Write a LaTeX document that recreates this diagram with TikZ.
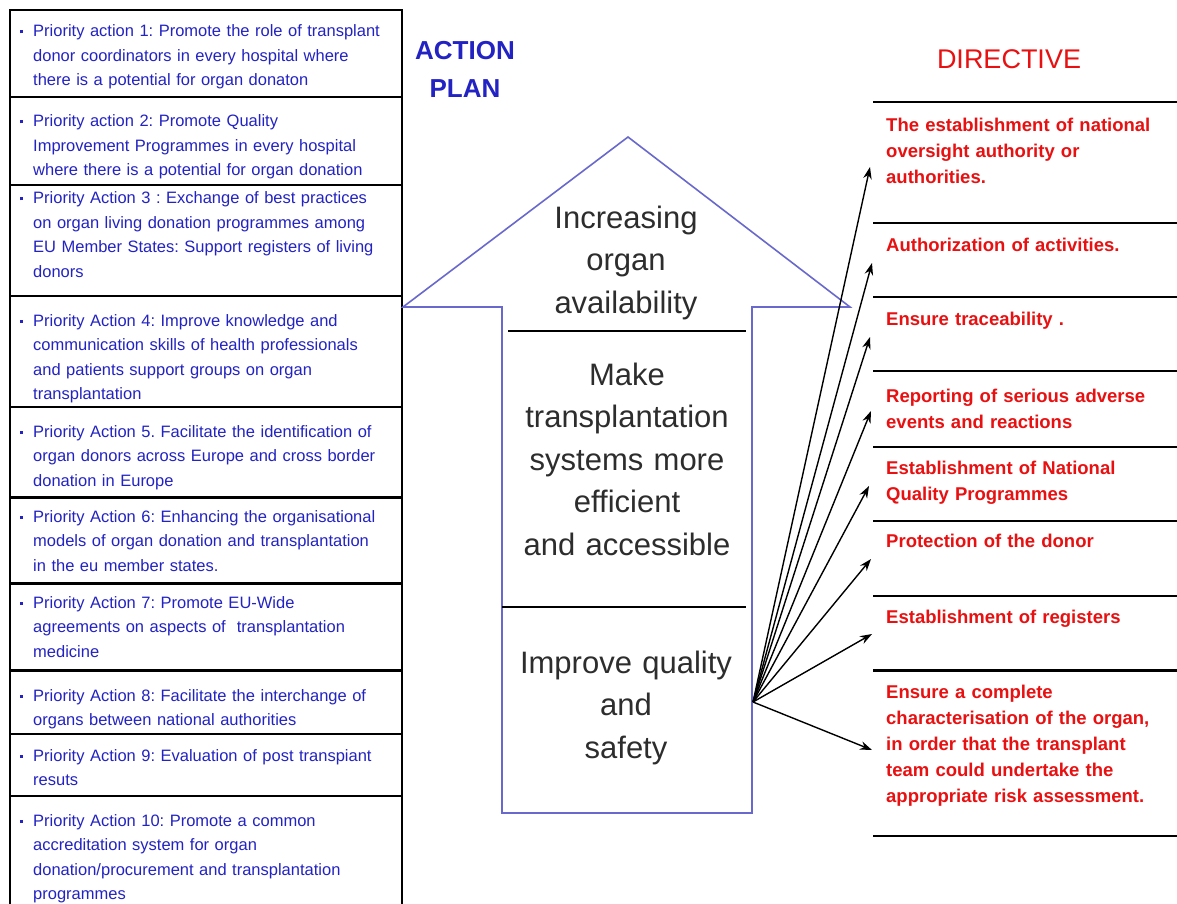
\documentclass[tikz,border=0pt]{standalone}
\usepackage{fontspec}
\setmainfont{Liberation Sans}
\usetikzlibrary{arrows.meta}

\definecolor{planblue}{RGB}{35,35,195}
\definecolor{roofblue}{RGB}{105,105,205}
\definecolor{dirred}{RGB}{232,16,16}
\definecolor{goaltext}{RGB}{45,45,45}

% small square bullet; the following lines stay indented under the text
\newcommand\prioitem[1]{{\leftskip=13pt\hskip-13pt\makebox[13pt][l]{\raisebox{3.5pt}{\rule{3pt}{3pt}}}#1\par}}

\tikzset{
  prio/.style={anchor=base west, inner sep=0pt, text width=380pt, align=left,
               text=planblue, font=\fontsize{16.5}{24.5}\selectfont\frenchspacing},
  dirtext/.style={anchor=base west, inner sep=0pt, text width=290pt, align=left,
               text=dirred, font=\bfseries\fontsize{18.5}{26}\selectfont\frenchspacing},
  goal/.style={anchor=base, inner sep=0pt, text width=260pt, align=center, text=goaltext,
               font=\fontsize{31}{42.5}\selectfont},
  rowline/.style={black, line width=1.5pt},
  thickrow/.style={black, line width=3pt},
  roof/.style={roofblue, line width=1.6pt, line join=miter},
  link/.style={black, line width=1.4pt, -{Stealth[length=12pt,width=8.5pt]}},
}

\begin{document}
\begin{tikzpicture}[x=1pt,y=-1pt]
\useasboundingbox (0,0) rectangle (1177,904);
\fill[white] (0,0) rectangle (1177,904);

% ---------- priority action table ----------
\draw[black, line width=2pt] (10,904) -- (10,10) -- (402,10) -- (402,904);
\foreach \yy in {97,185,296,407,734,796} \draw[rowline] (10,\yy) -- (402,\yy);
\foreach \yy in {497,583,670} \draw[thickrow] (10,\yy) -- (402,\yy);

\node[prio] (p1) at (20,37) {\prioitem{Priority action 1: Promote the role of transplant\\donor coordinators in every hospital where\\there is a potential for organ donaton}};
\node[prio] (p2) at (20,127) {\prioitem{Priority action 2: Promote Quality\\Improvement Programmes in every hospital\\where there is a potential for organ donation}};
\node[prio] (p3) at (20,204) {\prioitem{Priority Action 3 : Exchange of best practices\\on organ living donation programmes among\\EU Member States: Support registers of living\\donors}};
\node[prio] (p4) at (20,326) {\prioitem{Priority Action 4: Improve knowledge and\\communication skills of health professionals\\and patients support groups on organ\\transplantation}};
\node[prio] (p5) at (20,437) {\prioitem{Priority Action 5. Facilitate the identification of\\organ donors across Europe and cross border\\donation in Europe}};
\node[prio] (p6) at (20,522) {\prioitem{Priority Action 6: Enhancing the organisational\\models of organ donation and transplantation\\in the eu member states.}};
\node[prio] (p7) at (20,608) {\prioitem{Priority Action 7: Promote EU-Wide\\agreements on aspects of\ \ transplantation\\medicine}};
\node[prio] (p8) at (20,701) {\prioitem{Priority Action 8: Facilitate the interchange of\\organs between national authorities}};
\node[prio] (p9) at (20,761) {\prioitem{Priority Action 9: Evaluation of post transpiant\\resuts}};
\node[prio] (p10) at (20,826) {\prioitem{Priority Action 10: Promote a common\\accreditation system for organ\\donation/procurement and transplantation\\programmes}};

% ---------- headings ----------
\node[anchor=base, inner sep=0pt, text width=120pt, align=center, text=planblue,
      font=\bfseries\fontsize{26}{38}\selectfont] (plan) at (465,60) {ACTION\\PLAN};
\node[anchor=base, inner sep=0pt, text=dirred,
      font=\fontsize{27}{30}\selectfont] (dir) at (1009,69) {DIRECTIVE};

% ---------- upward arrow ----------
\draw[roof] (403,307) -- (628,137) -- (850,307) -- (752,307)
            -- (752,813) -- (502,813) -- (502,307) -- cycle;
\draw[rowline] (508,331) -- (746,331);
\draw[rowline] (502,607) -- (746,607);

\node[goal] (g1) at (626,228) {Increasing\\organ\\availability};
\node[goal] (g2) at (627,385) {Make\\transplantation\\systems more\\efficient\\and accessible};
\node[goal] (g3) at (626,673) {Improve quality\\and\\safety};

% ---------- directive list ----------
\foreach \yy in {102,223,297,371,447,521,596,836} \draw[rowline] (873,\yy) -- (1177,\yy);
\draw[thickrow] (873,670) -- (1177,670);

\node[dirtext] (d1) at (886,132) {The establishment of national\\oversight authority or\\authorities.};
\node[dirtext] (d2) at (886,251) {Authorization of activities.};
\node[dirtext] (d3) at (886,325) {Ensure traceability .};
\node[dirtext] (d4) at (886,402) {Reporting of serious adverse\\events and reactions};
\node[dirtext] (d5) at (886,474) {Establishment of National\\Quality Programmes};
\node[dirtext] (d6) at (886,547) {Protection of the donor};
\node[dirtext] (d7) at (886,623) {Establishment of registers};
\node[dirtext] (d8) at (886,698) {Ensure a complete\\characterisation of the organ,\\in order that the transplant\\team could undertake the\\appropriate risk assessment.};

% ---------- links from the quality goal to the directive items ----------
\coordinate (src) at (753,702);
\coordinate (t1) at (870,167);
\coordinate (t2) at (872,263);
\coordinate (t3) at (870,337);
\coordinate (t4) at (871,411);
\coordinate (t5) at (869,486);
\coordinate (t6) at (871,559);
\coordinate (t7) at (872,634);
\coordinate (t8) at (872,750);
\foreach \t in {t1,t2,t3,t4,t5,t6,t7,t8} \draw[link] (src) -- (\t);
\end{tikzpicture}
\end{document}
